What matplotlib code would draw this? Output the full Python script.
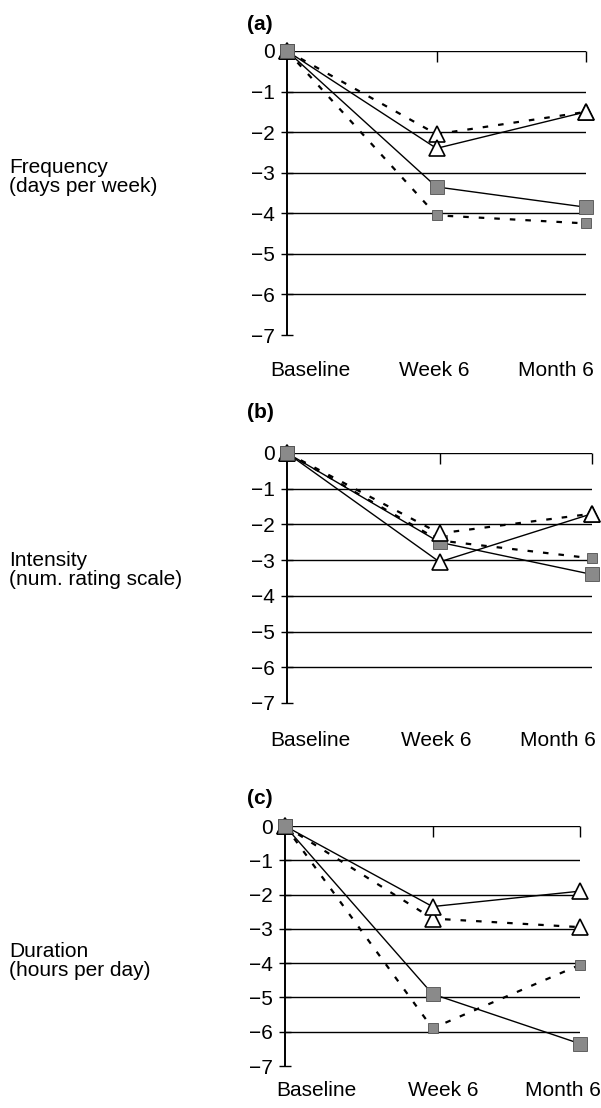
import matplotlib.pyplot as plt

plt.rcParams['font.family'] = ['Liberation Sans', 'DejaVu Sans']

# eixo x: tres momentos
momentos = [0, 1, 2]
rotulos_x = ['Baseline', 'Week 6', 'Month 6']

# (a) frequencia
freq_tri_cheia = [0, -2.4, -1.5]
freq_tri_trac = [0, -2.05, -1.5]
freq_qua_cheia = [0, -3.35, -3.85]
freq_qua_trac = [0, -4.05, -4.25]

# (b) intensidade
int_tri_cheia = [0, -3.05, -1.7]
int_tri_trac = [0, -2.25, -1.7]
int_qua_cheia = [0, -2.5, -3.4]
int_qua_trac = [0, -2.45, -2.95]

# (c) duracao
dur_tri_cheia = [0, -2.35, -1.9]
dur_tri_trac = [0, -2.7, -2.95]
dur_qua_cheia = [0, -4.9, -6.35]
dur_qua_trac = [0, -5.9, -4.05]

paineis = [
    ('(a)', 'Frequency\n(days per week)',
     [freq_tri_cheia, freq_tri_trac, freq_qua_cheia, freq_qua_trac]),
    ('(b)', 'Intensity\n(num. rating scale)',
     [int_tri_cheia, int_tri_trac, int_qua_cheia, int_qua_trac]),
    ('(c)', 'Duration\n(hours per day)',
     [dur_tri_cheia, dur_tri_trac, dur_qua_cheia, dur_qua_trac]),
]

W, H = 601, 1108
fig = plt.figure(figsize=(W / 100, H / 100), dpi=100)

def fx(px):
    return px / W

def fy(py):
    return 1 - py / H

# posicoes em pixels: esquerda, direita, topo, base, y titulo, y rotulo lateral,
# y rotulos x, x dos rotulos x
layout = [
    (287, 586, 51, 335, 24, 177, 370, [310, 434, 556]),
    (287, 592, 453, 703, 413, 570, 740, [310, 436, 558]),
    (285, 580, 826, 1066, 799, 961, 1090, [316, 443, 563]),
]

cinza = '#8a8a8a'
borda = '#505050'
tracejado = (0, (2.5, 4.5))

for (titulo, lateral, series), lay in zip(paineis, layout):
    x0, x1, topo, base, yt, yl, yx, xr = lay
    ax = fig.add_axes([fx(x0), fy(base), fx(x1 - x0), (base - topo) / H])
    ax.set_xlim(0, 2)
    ax.set_ylim(-7, 0)

    for v in range(-6, 1):
        ax.axhline(v, color='black', lw=1.0, zorder=1)

    tri_c, tri_t, qua_c, qua_t = series
    ax.plot(momentos, qua_t, color='black', lw=1.6, ls=tracejado,
            marker='s', ms=7, mfc=cinza, mec=borda, mew=0.6, zorder=3,
            clip_on=False)
    ax.plot(momentos, qua_c, color='black', lw=1.0, ls='-',
            marker='s', ms=9.5, mfc=cinza, mec=borda, mew=0.6, zorder=3,
            clip_on=False)
    ax.plot(momentos, tri_t, color='black', lw=1.6, ls=tracejado,
            marker='^', ms=11.5, mfc='white', mec='black', mew=1.2, zorder=4,
            clip_on=False)
    ax.plot(momentos, tri_c, color='black', lw=1.0, ls='-',
            marker='^', ms=11.5, mfc='white', mec='black', mew=1.2, zorder=4,
            clip_on=False)
    # quadrado da baseline por cima de tudo
    ax.plot([momentos[0]], [0], marker='s', ms=9.5, mfc=cinza,
            mec=borda, mew=0.6, ls='none', zorder=5, clip_on=False)

    for lado in ['right', 'bottom', 'top']:
        ax.spines[lado].set_visible(False)
    ax.spines['left'].set_linewidth(1.4)
    ax.patch.set_visible(False)

    ax.set_yticks(range(-7, 1))
    ax.set_yticklabels([str(v).replace('-', '\u2212') for v in range(-7, 1)])
    ax.tick_params(axis='y', direction='inout', length=9, width=1, pad=4,
                   labelsize=15)
    ax.set_xticks([1, 2])
    ax.tick_params(axis='x', top=True, bottom=False, labeltop=False,
                   labelbottom=False, direction='in', length=8, width=1)

    fig.text(fx(247), fy(yt), titulo, fontsize=15, fontweight='bold',
             ha='left', va='center')
    fig.text(fx(9), fy(yl), lateral, fontsize=15, ha='left', va='center',
             linespacing=1.05)
    for xi, r in zip(xr, rotulos_x):
        fig.text(fx(xi), fy(yx), r, fontsize=15, ha='center', va='center')

fig.savefig('out.png', dpi=100, facecolor='white')
